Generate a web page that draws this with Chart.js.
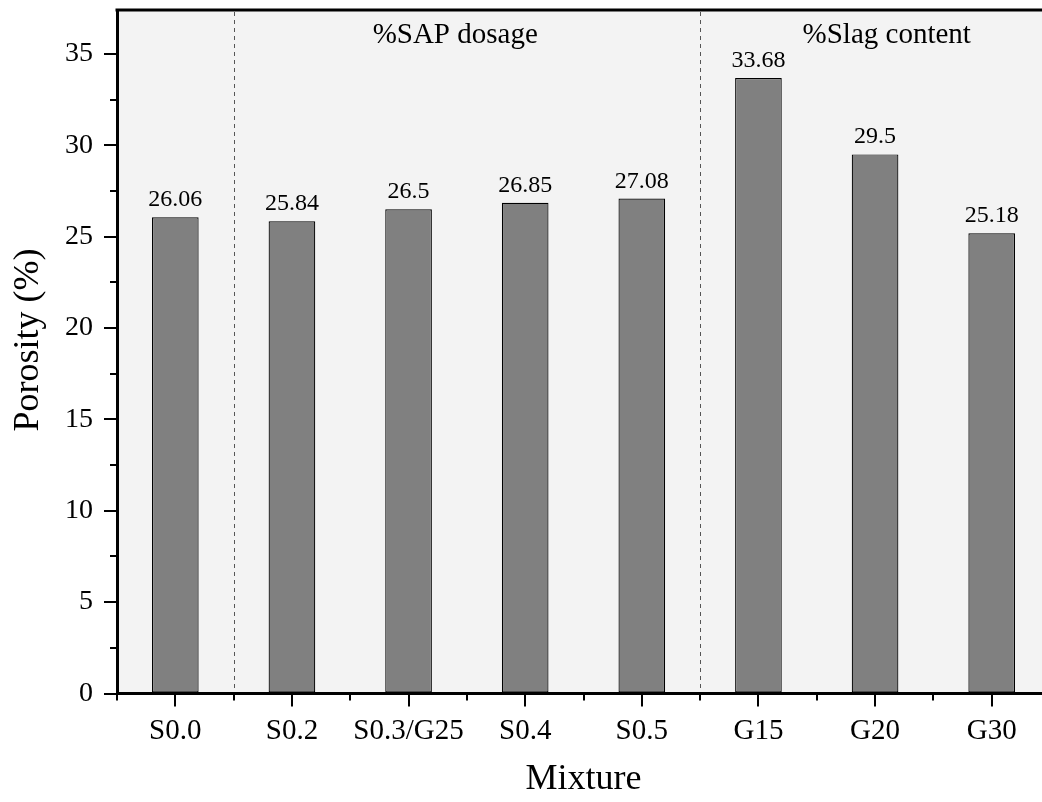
<!DOCTYPE html>
<html>
<head>
<meta charset="utf-8">
<script src="https://cdn.jsdelivr.net/npm/chart.js@4.4.1/dist/chart.umd.min.js"></script>
<style>
  html, body { margin: 0; padding: 0; background: #ffffff; overflow: hidden; }
  #wrap { width: 1050px; height: 802px; position: relative; }
</style>
</head>
<body>
<div id="wrap"><canvas id="c" width="1050" height="802"></canvas></div>
<script>
// Mixtures and measured porosity (%)
const mixtures = ['S0.0', 'S0.2', 'S0.3/G25', 'S0.4', 'S0.5', 'G15', 'G20', 'G30'];
const porosity = [26.06, 25.84, 26.5, 26.85, 27.08, 33.68, 29.5, 25.18];

// Labelled y ticks
const yTickValues = [0, 5, 10, 15, 20, 25, 30, 35];

// Mixture groups: separators sit between these categories
const groupNames = ['%SAP dosage', '%Slag content'];
const groupBreaks = [0.5, 4.5];

const SERIF = "'Liberation Serif', 'Times New Roman', serif";

// Light panel behind the bars
const panelBg = {
  id: 'panelBg',
  beforeDraw(chart) {
    const { ctx, chartArea: a } = chart;
    ctx.save();
    ctx.fillStyle = '#f3f3f3';
    ctx.fillRect(a.left, a.top, a.right - a.left, a.bottom - a.top);
    ctx.restore();
  }
};

// Group separators, group titles, value labels, minor ticks, top frame and y title
const decorations = {
  id: 'decorations',
  afterDatasetsDraw(chart) {
    const { ctx, chartArea: a } = chart;
    const xs = chart.scales.x, ys = chart.scales.y;
    const step = xs.getPixelForValue(1) - xs.getPixelForValue(0);
    const px = v => xs.getPixelForValue(0) + v * step;

    ctx.save();
    // dashed separators
    ctx.strokeStyle = '#555555';
    ctx.lineWidth = 1;
    ctx.setLineDash([4, 4]);
    groupBreaks.forEach(b => {
      const x = Math.round(px(b)) + 0.5;
      ctx.beginPath();
      ctx.moveTo(x, a.top + 2);
      ctx.lineTo(x, a.bottom - 2);
      ctx.stroke();
    });
    ctx.setLineDash([]);

    // group titles
    ctx.fillStyle = '#000';
    ctx.font = '29px ' + SERIF;
    ctx.textAlign = 'center';
    ctx.textBaseline = 'alphabetic';
    const groupCenters = [2.4, 6.1];
    groupNames.forEach((t, i) => ctx.fillText(t, px(groupCenters[i]), a.top + 33));

    // value labels above bars
    ctx.font = '24px ' + SERIF;
    porosity.forEach((v, i) => {
      ctx.fillText(String(v), xs.getPixelForValue(i), ys.getPixelForValue(v) - 11);
    });

    // minor ticks
    ctx.strokeStyle = '#000';
    ctx.lineWidth = 2;
    for (let v = 2.5; v <= ys.max; v += 5) {
      const y = Math.round(ys.getPixelForValue(v));
      ctx.beginPath();
      ctx.moveTo(a.left, y);
      ctx.lineTo(a.left - 7, y);
      ctx.stroke();
    }
    for (let i = 0; i <= mixtures.length; i++) {
      const x = Math.round(px(i - 0.5));
      ctx.beginPath();
      ctx.moveTo(x, a.bottom);
      ctx.lineTo(x, a.bottom + 7);
      ctx.stroke();
    }

    // top frame
    ctx.lineWidth = 3;
    ctx.beginPath();
    ctx.moveTo(a.left - 1.5, a.top);
    ctx.lineTo(a.right, a.top);
    ctx.stroke();

    // y axis title
    ctx.font = '36px ' + SERIF;
    ctx.textAlign = 'center';
    ctx.textBaseline = 'alphabetic';
    ctx.translate(38, 340);
    ctx.rotate(-Math.PI / 2);
    ctx.fillText('Porosity (%)', 0, 0);
    ctx.restore();
  }
};

new Chart(document.getElementById('c'), {
  type: 'bar',
  data: {
    labels: mixtures,
    datasets: [{
      data: porosity,
      backgroundColor: '#808080',
      borderColor: '#000000',
      borderWidth: 1.2,
      borderSkipped: false,
      barPercentage: 0.4,
      categoryPercentage: 1.0
    }]
  },
  options: {
    responsive: false,
    devicePixelRatio: 1,
    animation: false,
    layout: { padding: { top: 10, left: 0, right: 0, bottom: 0 } },
    plugins: { legend: { display: false }, tooltip: { enabled: false } },
    scales: {
      x: {
        offset: true,
        grid: { offset: false, drawOnChartArea: false, drawTicks: true, tickLength: 13, color: '#000', lineWidth: 2 },
        border: { display: true, color: '#000', width: 3 },
        ticks: { color: '#000', font: { family: SERIF, size: 29 }, padding: 7, maxRotation: 0, autoSkip: false },
        title: { display: true, text: 'Mixture', color: '#000', font: { family: SERIF, size: 36 }, padding: { top: 0, bottom: 1 } },
        afterFit(scale) { scale.height = 108.5; scale.paddingLeft = 0; scale.paddingRight = 0; }
      },
      y: {
        min: 0,
        max: 37.4,
        afterBuildTicks(scale) { scale.ticks = yTickValues.map(v => ({ value: v })); },
        grid: { drawOnChartArea: false, drawTicks: true, tickLength: 13, color: '#000', lineWidth: 2 },
        border: { display: true, color: '#000', width: 3 },
        ticks: { color: '#000', font: { family: SERIF, size: 28 }, padding: 11 },
        title: { display: false },
        afterFit(scale) { scale.width = 117; scale.paddingTop = 0; scale.paddingBottom = 0; }
      }
    }
  },
  plugins: [panelBg, decorations]
});
</script>
</body>
</html>
